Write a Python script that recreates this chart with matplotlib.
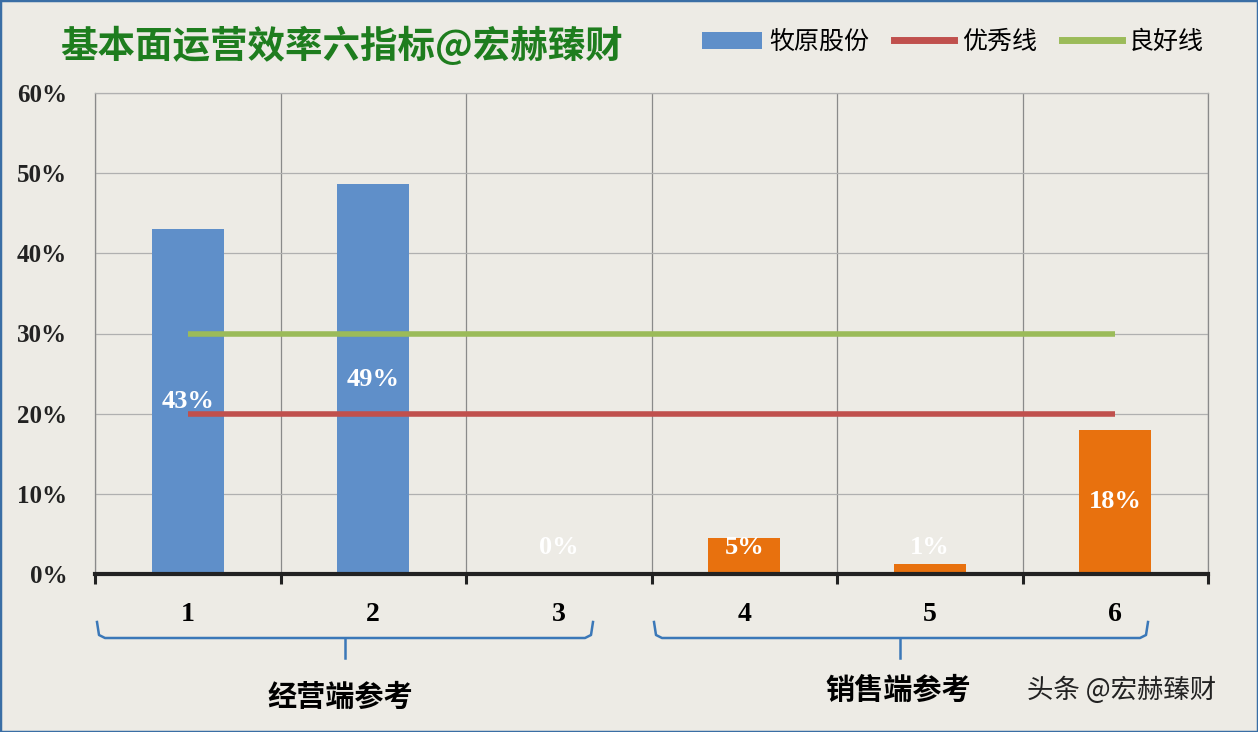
import matplotlib
matplotlib.use("Agg")
import matplotlib.pyplot as plt
from matplotlib.lines import Line2D
from matplotlib.patches import Patch
import numpy as np

categories = ["1", "2", "3", "4", "5", "6"]
values = [43, 48.6, 0, 4.5, 1.2, 18]
value_labels = ["43%", "49%", "0%", "5%", "1%", "18%"]
bar_colors = ["#5F8FC9", "#5F8FC9", "#5F8FC9", "#E8710E", "#E8710E", "#E8710E"]
excellent = [20, 20, 20, 20, 20, 20]
good = [30, 30, 30, 30, 30, 30]
yticks = [0, 10, 20, 30, 40, 50, 60]
ytick_labels = ["0%", "10%", "20%", "30%", "40%", "50%", "60%"]
title = "基本面运营效率六指标@宏赫臻财"
legend_labels = ["牧原股份", "优秀线", "良好线"]
group_labels = ["经营端参考", "销售端参考"]
watermark = "头条 @宏赫臻财"

BG = "#EDEBE5"
W, H = 1258, 732
fig = plt.figure(figsize=(W / 100, H / 100), dpi=100, facecolor=BG)
ax = fig.add_axes([95 / W, 1 - 574 / H, (1208 - 95) / W, (574 - 93) / H])
ax.set_facecolor(BG)

x = np.arange(len(categories))
ax.bar(x, values, width=0.39, color=bar_colors, zorder=2)
ax.plot(x, good, color="#9BBB59", lw=4, solid_capstyle="butt", zorder=3)
ax.plot(x, excellent, color="#C0504D", lw=4, solid_capstyle="butt", zorder=3)

serif_bold = dict(family="Liberation Serif", weight="bold")
for xi, v, lab in zip(x, values, value_labels):
    y = max(v / 2, 3.3)
    ax.text(xi, y, lab, ha="center", va="center", color="white",
            fontsize=19, zorder=4, **serif_bold)

ax.set_xlim(-0.5, 5.5)
ax.set_ylim(0, 60)
ax.set_yticks(yticks)
ax.set_yticklabels(ytick_labels, fontsize=18, color="#222222", **serif_bold)
ax.set_xticks(np.arange(-0.5, 6, 1))
ax.set_xticklabels([])
ax.set_xticks(x, minor=True)
ax.set_xticklabels(categories, minor=True, fontsize=20, **serif_bold)
ax.tick_params(axis="x", which="major", length=7, width=2.2, color="#222222", direction="out")
ax.tick_params(axis="x", which="minor", length=0, pad=20)
ax.tick_params(axis="y", length=0, pad=20)
ax.grid(True, axis="y", which="major", color="#B0B0B0", lw=0.9, zorder=0)
ax.grid(True, axis="x", which="major", color="#8A8A8A", lw=0.9, zorder=0)
for s in ["left", "right"]:
    ax.spines[s].set_color("#8A8A8A")
    ax.spines[s].set_linewidth(0.9)
ax.spines["top"].set_color("#B0B0B0")
ax.spines["top"].set_linewidth(0.9)
ax.spines["bottom"].set_color("#222222")
ax.spines["bottom"].set_linewidth(3)
ax.set_axisbelow(True)

# title
fig.text(60 / W, 1 - 46 / H, title, fontsize=27, color="#1E7D1E", weight="bold",
         family=["Noto Sans CJK SC"], va="center", ha="left")

# legend
handles = [Patch(facecolor="#5F8FC9", edgecolor="none"),
           Line2D([0], [0], color="#C0504D", lw=5),
           Line2D([0], [0], color="#9BBB59", lw=5)]
fig.legend(handles, legend_labels, loc="center", bbox_to_anchor=(953 / W, 1 - 42 / H),
           ncol=3, frameon=False, prop=dict(family="Noto Sans CJK SC", size=18),
           handlelength=2.4, handleheight=0.7, columnspacing=1.0, handletextpad=0.3)

# braces (decorative, figure pixel coordinates)
def px(xp, yp):
    return xp / W, 1 - yp / H

def brace(x0, x1, xm, ytop=622, ymid=638, ytip=658):
    col = "#3B78B8"
    pts = [px(x0, ytop), px(x0 + 2, ymid - 3), px(x0 + 8, ymid), px(x1 - 8, ymid),
           px(x1 - 2, ymid - 3), px(x1, ytop)]
    fig.add_artist(Line2D([p[0] for p in pts], [p[1] for p in pts], color=col, lw=1.8))
    a, b = px(xm, ymid), px(xm, ytip)
    fig.add_artist(Line2D([a[0], b[0]], [a[1], b[1]], color=col, lw=1.8))

brace(97, 593, 345)
brace(654, 1148, 900)

fig.text(340 / W, 1 - 697 / H, group_labels[0], fontsize=21, weight="bold",
         family=["Noto Sans CJK SC"], ha="center", va="center", color="black")
fig.text(898 / W, 1 - 690 / H, group_labels[1], fontsize=21, weight="bold",
         family=["Noto Sans CJK SC"], ha="center", va="center", color="black")
fig.text(1122 / W, 1 - 690 / H, watermark, fontsize=19,
         family=["Noto Sans CJK SC", "DejaVu Sans"], ha="center", va="center", color="#222222")

# outer frame
fig.add_artist(plt.Rectangle((0, 0), 1, 1, transform=fig.transFigure, fill=False,
                             edgecolor="#3A6EA5", lw=2.5))

fig.savefig("out.png", dpi=100, facecolor=BG)
